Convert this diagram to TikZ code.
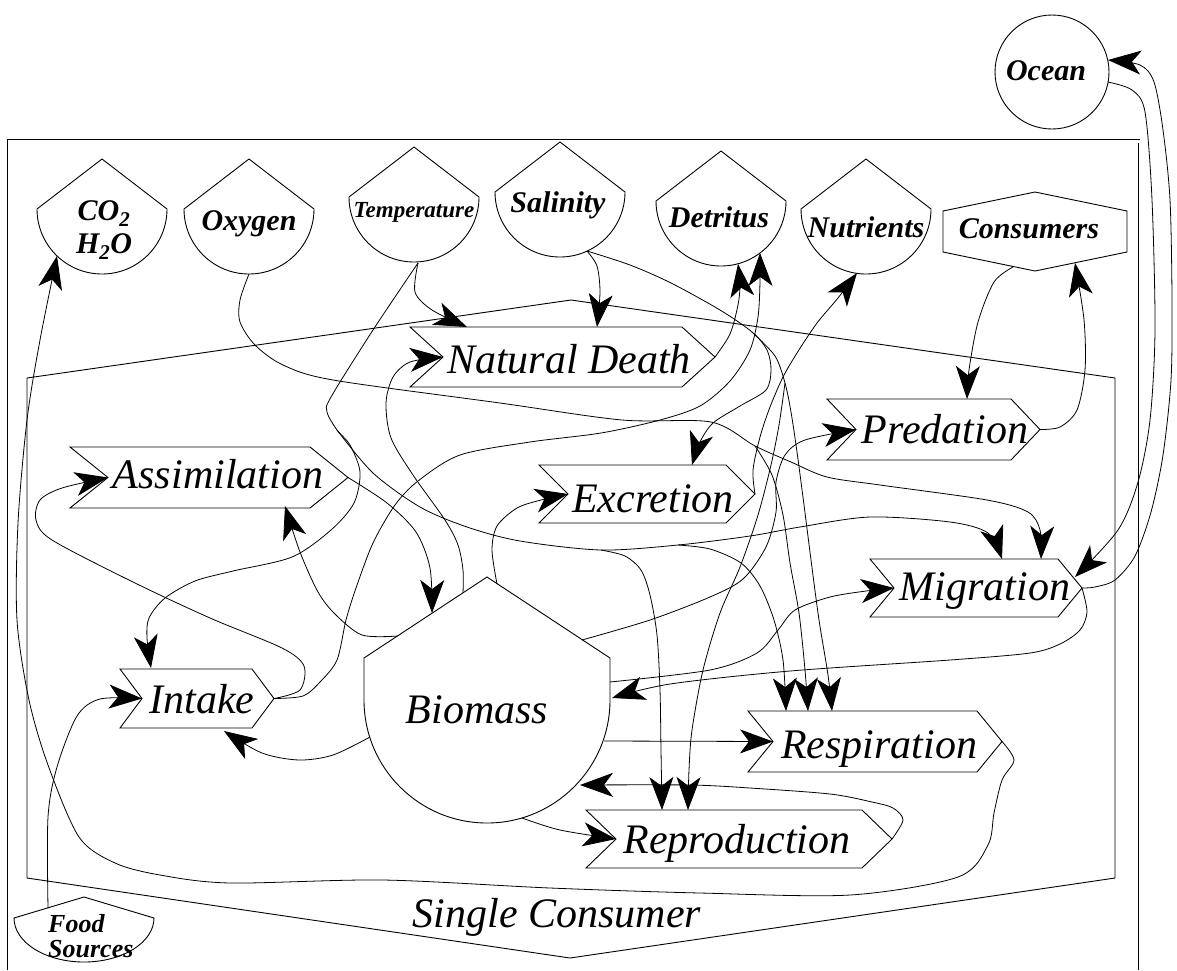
\documentclass[tikz,border=0pt]{standalone}
\usepackage{fontspec}
\setmainfont{Liberation Serif}
\usetikzlibrary{arrows.meta}

\begin{document}
\begin{tikzpicture}[x=1pt, y=-1pt,
		shp/.style={line width=0.9pt},
		flow/.style={line width=0.8pt, -{Stealth[length=33pt, width=24pt, inset=9pt]}},
		biglab/.style={font=\fontsize{42}{44}\selectfont\itshape, inner sep=0pt, anchor=base},
		envlab/.style={font=\fontsize{30}{33}\selectfont\bfseries\itshape, inner sep=0pt, anchor=base}]
	\useasboundingbox (0,0) rectangle (1177,970);
	\draw[shp] (7,970) -- (7,139) -- (1140,139);
	\draw[shp] (1138,143) -- (1138,970);
	\draw[shp] (27,378) -- (571,300) -- (1115,378) -- (1115,878) -- (570,958) -- (27,878) -- cycle;
	\node[biglab] (single) at (557,927) {Single Consumer};
	\foreach \cx/\ys in {102/209, 249/209, 414/197, 560/192, 721/201, 866/209}
		\draw[shp] (\cx,\ys-50) -- (\cx+65,\ys) arc[start angle=0, end angle=180, radius=65] -- cycle;
	\node[envlab, align=center, anchor=center] (co2) at (104,230) {CO\textsubscript{2}\\H\textsubscript{2}O};
	\node[envlab] (oxy) at (249,230) {Oxygen};
	\node[envlab, font=\fontsize{23}{25}\selectfont\bfseries\itshape] (temp) at (414,217) {Temperature};
	\node[envlab] (sal) at (558,212) {Salinity};
	\node[envlab] (det) at (719,227) {Detritus};
	\node[envlab] (nut) at (866,237) {Nutrients};
	\draw[shp] (1035,192) -- (1127,211) -- (1127,252) -- (1035,271) -- (943,252) -- (943,211) -- cycle;
	\node[envlab] (cons) at (1029,238) {Consumers};
	\draw[shp] (1052,72) circle[radius=57];
	\node[envlab] (ocean) at (1046,80) {Ocean};
	\draw[shp] (84,897) -- (154,918) arc[start angle=0, end angle=180, x radius=70, y radius=44] -- cycle;
	\node[envlab, font=\fontsize{26}{25}\selectfont\bfseries\itshape, align=left, anchor=base west] (food) at (48,957) {Food\\Sources};
	\draw[shp] (487,577) -- (610,658) -- (610,700) arc[start angle=0, end angle=180, radius=123] -- (364,658) -- cycle;
	\node[biglab] (bio) at (477,723) {Biomass};
	\foreach \nm/\xa/\xb/\yt/\yb/\dd in {nd/410/682/327/387/33, pred/827/1011/399/460/29, assim/70/310/447/508/38, excr/539/726/465/523/29, migr/870/1058/559/617/24, resp/748/977/711/772/25, repro/586/862/810/868/30, intake/120/252/669/728/22} {
		\draw[shp] (\xa,\yt) -- (\xb,\yt) -- (\xb+\dd,{(\yt+\yb)/2}) -- (\xb,\yb) -- (\xa,\yb) -- (\xa+\dd,{(\yt+\yb)/2}) -- cycle;
		\coordinate (\nm-w) at (\xa+\dd,{(\yt+\yb)/2});
		\coordinate (\nm-e) at (\xb+\dd,{(\yt+\yb)/2});
	}
	\node[biglab] (nd) at (569,373) {Natural Death};
	\node[biglab] (pred) at (945,443) {Predation};
	\node[biglab] (assim) at (218,488) {Assimilation};
	\node[biglab] (excr) at (653,512) {Excretion};
	\node[biglab] (migr) at (985,600) {Migration};
	\node[biglab] (resp) at (879,758) {Respiration};
	\node[biglab] (repro) at (737,853) {Reproduction};
	\node[biglab] (intake) at (202,713) {Intake};
	\coordinate (co2-in) at (57,256);
	\coordinate (oxy-s) at (249,274);
	\coordinate (temp-s) at (418,263);
	\coordinate (sal-s) at (587,251);
	\coordinate (det-in1) at (738,264);
	\coordinate (det-in2) at (760,253);
	\coordinate (nut-in) at (857,273);
	\coordinate (cons-in) at (1075,263);
	\coordinate (cons-out) at (1013,267);
	\coordinate (ocean-in) at (1108,60);
	\coordinate (ocean-out) at (1108,82);
	\coordinate (food-s) at (48,908);
	\coordinate (bio-nd) at (463,593);
	\coordinate (bio-as) at (398,636);
	\coordinate (bio-a) at (432,613);
	\coordinate (bio-ex) at (497,584);
	\coordinate (bio-pr) at (582,640);
	\coordinate (bio-mi) at (610,682);
	\coordinate (bio-m) at (612,698);
	\coordinate (bio-re) at (604,741);
	\coordinate (bio-r) at (580,785);
	\coordinate (bio-rp) at (522,818);
	\coordinate (bio-in) at (370,737);
	\coordinate (nd-top1) at (467,327);
	\coordinate (nd-top2) at (597,327);
	\coordinate (intake-top) at (151,668);
	\coordinate (intake-bot) at (224,731);
	\coordinate (assim-bot) at (285,506);
	\coordinate (excr-top) at (692,465);
	\coordinate (pred-top) at (967,399);
	\coordinate (migr-top1) at (1002,559);
	\coordinate (migr-top2) at (1041,559);
	\coordinate (migr-ne) at (1075,577);
	\coordinate (resp-top1) at (786,711);
	\coordinate (resp-top2) at (808,711);
	\coordinate (resp-top3) at (832,711);
	\coordinate (repro-top1) at (662,810);
	\coordinate (repro-top2) at (688,810);
	\coordinate (tb1) at (337,430);
	\coordinate (tb2) at (601,550);
	\coordinate (tb3) at (678,545);
	\coordinate (sb1) at (752,332);
	\coordinate (sb2) at (785,383);
	\coordinate (ob1) at (755,446);
	\draw[flow] plot[smooth] coordinates {(resp-e) (1014,760) (1002,780) (994,813) (988,845) (958,877) (850,895) (700,893) (550,888) (383,880) (230,883) (160,875) (115,863) (79,837) (48,765) (29,700) (17,620) (18,523) (27,420) (40,340) (co2-in)};
	\draw[flow] plot[smooth] coordinates {(oxy-s) (240,300) (240,322) (255,345) (283,365) (333,380) (500,403) (622,420) (711,422) (ob1) (791,462) (827,477) (880,485) (987,500) (1028,512) (1040,530) (migr-top2)};
	\draw[flow] plot[smooth] coordinates {(ob1) (772,475) (783,515) (790,563) (799,613) (805,670) (resp-top2)};
	\draw[flow] plot[smooth] coordinates {(temp-s) (373,330) (331,397) (327,412) (tb1) (350,445) (360,472) (354,503) (331,530) (292,557) (233,571) (195,581) (165,598) (149,618) (147,638) (intake-top)};
	\draw[flow] plot[smooth] coordinates {(temp-s) (415,292) (432,310) (nd-top1)};
	\draw[flow] plot[smooth] coordinates {(tb1) (373,473) (420,507) (467,527) (520,541) (tb2) (tb3) (750,536) (800,527) (870,517) (950,522) (988,533) (migr-top1)};
	\draw[flow] plot[smooth] coordinates {(tb2) (625,556) (641,570) (650,595) (657,635) (660,690) (661,750) (repro-top1)};
	\draw[flow] plot[smooth] coordinates {(tb3) (710,549) (741,563) (760,586) (774,620) (783,660) (resp-top1)};
	\draw[flow] plot[smooth] coordinates {(sal-s) (597,266) (600,292) (nd-top2)};
	\draw[flow] plot[smooth] coordinates {(sal-s) (630,265) (671,283) (720,310) (sb1) (767,350) (771,370) (766,390) (740,406) (713,423) (700,442) (excr-top)};
	\draw[flow] plot[smooth] coordinates {(sb1) (775,356) (sb2) (791,412) (797,452) (804,505) (811,560) (819,620) (828,675) (resp-top3)};
	\draw[flow] plot[smooth] coordinates {(sb2) (779,425) (771,465) (758,515) (740,567) (720,613) (703,670) (692,730) (689,770) (repro-top2)};
	\draw[flow] plot[smooth] coordinates {(bio-nd) (463,570) (458,545) (445,520) (413,475) (391,438) (386,403) (393,377) (410,362) (nd-w)};
	\draw[flow] plot[smooth] coordinates {(assim-e) (387,503) (416,532) (430,568) (bio-a)};
	\draw[flow] plot[smooth] coordinates {(bio-as) (362,635) (335,614) (318,592) (300,552) (assim-bot)};
	\draw[flow] plot[smooth] coordinates {(intake-e) (303,696) (320,682) (337,660) (346,620) (356,588) (373,543) (395,505) (418,481) (460,455) (530,442) (601,433) (660,420) (700,406) (730,381) (750,350) (758,317) (760,282) (det-in2)};
	\draw[flow] plot[smooth] coordinates {(nd-e) (730,334) (738,305) (740,285) (det-in1)};
	\draw[flow] plot[smooth] coordinates {(bio-ex) (492,550) (497,526) (517,508) (541,500) (excr-w)};
	\draw[flow] plot[smooth] coordinates {(excr-e) (753,470) (760,437) (770,407) (783,377) (797,353) (817,323) (838,298) (nut-in)};
	\draw[flow] plot[smooth] coordinates {(bio-pr) (650,620) (710,597) (743,579) (766,547) (776,512) (776,482) (785,455) (805,440) (pred-w)};
	\draw[flow] plot[smooth] coordinates {(pred-e) (1060,427) (1077,410) (1085,370) (1084,320) (cons-in)};
	\draw[flow] plot[smooth] coordinates {(cons-out) (994,282) (978,322) (969,370) (pred-top)};
	\draw[flow] plot[smooth] coordinates {(ocean-out) (1132,90) (1145,112) (1152,200) (1155,330) (1150,420) (1138,482) (1118,530) (migr-ne)};
	\draw[flow] plot[smooth] coordinates {(migr-e) (1095,587) (1115,580) (1135,556) (1151,512) (1163,455) (1171,380) (1172,300) (1170,200) (1163,130) (1154,82) (1140,65) (ocean-in)};
	\draw[flow] plot[smooth] coordinates {(migr-e) (1087,612) (1080,630) (1060,644) (1030,653) (950,660) (790,671) (670,684) (bio-m)};
	\draw[flow] plot[smooth] coordinates {(bio-mi) (710,670) (757,653) (778,630) (795,610) (830,597) (866,591) (migr-w)};
	\draw[flow] (bio-re) -- (resp-w);
	\draw[flow] plot[smooth] coordinates {(bio-rp) (560,830) (repro-w)};
	\draw[flow] plot[smooth] coordinates {(repro-e) (903,820) (893,808) (872,802) (830,794) (750,788) (690,785) (bio-r)};
	\draw[flow] plot[smooth] coordinates {(bio-in) (333,755) (299,760) (262,753) (intake-bot)};
	\draw[flow] plot[smooth] coordinates {(food-s) (48,817) (57,767) (77,716) (100,699) (intake-w)};
	\draw[flow] plot[smooth] coordinates {(intake-e) (300,690) (304,666) (282,648) (210,618) (133,582) (52,540) (36,520) (40,500) (62,488) (assim-w)};
\end{tikzpicture}
\end{document}
